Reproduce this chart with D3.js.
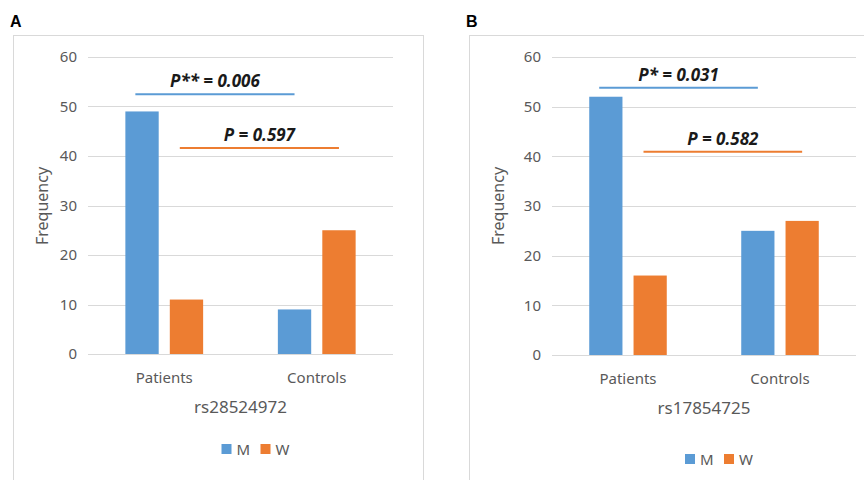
<!DOCTYPE html>
<html>
<head>
<meta charset="utf-8">
<script src="https://cdn.jsdelivr.net/npm/d3@7"></script>
<style>
  body { margin: 0; background: #fff; }
  text { font-family: "Noto Sans", "Open Sans", sans-serif; }
</style>
</head>
<body>
<div id="Canvas"></div>
<script>
// data
let categories = ["Patients", "Controls"]
let series = ["M", "W"]
let yTicks = [0, 10, 20, 30, 40, 50, 60]
let colors = ["#5B9BD5", "#ED7D31"]

// panel A
let valuesA_M = [49, 9]
let valuesA_W = [11, 25]
let pTextA = ["P** = 0.006", "P = 0.597"]
let pLevelA = [52.5, 41.6]

// panel B
let valuesB_M = [52, 25]
let valuesB_W = [16, 27]
let pTextB = ["P* = 0.031", "P = 0.582"]
let pLevelB = [53.8, 40.9]

let svg = d3.select("#Canvas")
    .append("svg")
    .attr("width", 864)
    .attr("height", 480)

function drawPanel(letter, frameX, frameW, x0, x1, yTop, yBot, snp, mVals, wVals, pTexts, pLevels, legendY) {
    let g = svg.append("g")
    // panel letter
    g.append("text")
        .attr("x", frameX - 3)
        .attr("y", 27)
        .style("font-family", "Liberation Sans, Arial, sans-serif")
        .style("font-weight", "bold")
        .style("font-size", "16px")
        .text(letter)
    // frame
    g.append("rect")
        .attr("x", frameX + 0.5)
        .attr("y", 35.5)
        .attr("width", frameW)
        .attr("height", 480)
        .style("fill", "none")
        .style("stroke", "#d9d9d9")

    let yScale = d3.scaleLinear().domain([0, 60]).range([yBot, yTop])
    let xScale = d3.scaleBand().domain(categories).range([x0, x1])
    let bw = xScale.bandwidth()
    let xSub = d3.scaleBand().domain(series).range([bw * 0.245, bw * 0.755]).paddingInner(0.25)

    // grid lines
    g.append("g")
        .selectAll("line")
        .data(yTicks)
        .enter()
        .append("line")
        .attr("x1", x0)
        .attr("x2", x1)
        .attr("y1", d => Math.round(yScale(d)) + 0.5)
        .attr("y2", d => Math.round(yScale(d)) + 0.5)
        .style("stroke", "#d9d9d9")
        .style("stroke-width", 1)

    // y axis labels
    let yAxis = d3.axisLeft(yScale).tickValues(yTicks).tickSize(0).tickPadding(11)
    let ax = g.append("g").attr("transform", `translate(${x0},0)`).call(yAxis)
    ax.select(".domain").remove()
    ax.selectAll("text")
        .style("font-family", "Noto Sans, sans-serif")
        .style("font-size", "15px")
        .style("fill", "#595959")

    // axis title
    g.append("text")
        .attr("transform", `translate(${frameX + 35},206) rotate(-90)`)
        .attr("text-anchor", "middle")
        .style("font-size", "16px")
        .style("fill", "#595959")
        .text("Frequency")

    // bars
    let rows = []
    categories.forEach((c, i) => {
        rows.push({ cat: c, s: "M", v: mVals[i] })
        rows.push({ cat: c, s: "W", v: wVals[i] })
    })
    g.append("g")
        .selectAll("rect")
        .data(rows)
        .enter()
        .append("rect")
        .attr("x", d => xScale(d.cat) + xSub(d.s))
        .attr("y", d => yScale(d.v))
        .attr("width", xSub.bandwidth())
        .attr("height", d => yScale(0) - yScale(d.v))
        .style("fill", d => colors[series.indexOf(d.s)])

    // category labels
    g.append("g")
        .selectAll("text")
        .data(categories)
        .enter()
        .append("text")
        .attr("x", d => xScale(d) + bw / 2)
        .attr("y", yBot + 29)
        .attr("text-anchor", "middle")
        .style("font-size", "15px")
        .style("fill", "#595959")
        .text(d => d)

    // snp title
    g.append("text")
        .attr("x", (x0 + x1) / 2)
        .attr("y", yBot + 59)
        .attr("text-anchor", "middle")
        .style("font-size", "17px")
        .style("fill", "#595959")
        .text(snp)

    // significance lines: M patients->controls, W patients->controls
    series.forEach((s, i) => {
        let lx1 = xScale(categories[0]) + xSub(s) + xSub.bandwidth() * 0.3
        let lx2 = xScale(categories[1]) + xSub(s) + xSub.bandwidth() * 0.5
        let ly = yScale(pLevels[i])
        g.append("line")
            .attr("x1", lx1)
            .attr("x2", lx2)
            .attr("y1", ly)
            .attr("y2", ly)
            .style("stroke", colors[i])
            .style("stroke-width", 2)
        g.append("text")
            .attr("x", (lx1 + lx2) / 2)
            .attr("y", ly - 7)
            .attr("text-anchor", "middle")
            .style("font-family", "Open Sans, sans-serif")
            .style("font-weight", "bold")
            .style("font-style", "italic")
            .style("font-size", "17px")
            .style("fill", "#1a1a1a")
            .text(pTexts[i])
    })

    // legend
    let lg = g.append("g").attr("transform", `translate(${(x0 + x1) / 2 - 19},${legendY})`)
    series.forEach((s, i) => {
        lg.append("rect")
            .attr("x", i * 39)
            .attr("y", -5)
            .attr("width", 10)
            .attr("height", 10)
            .style("fill", colors[i])
        lg.append("text")
            .attr("x", i * 39 + 15)
            .attr("y", 5.5)
            .style("font-size", "15px")
            .style("fill", "#595959")
            .text(s)
    })
}

drawPanel("A", 13, 410, 88, 393, 57, 354, "rs28524972", valuesA_M, valuesA_W, pTextA, pLevelA, 449)
drawPanel("B", 469, 420, 552, 856, 57, 355, "rs17854725", valuesB_M, valuesB_W, pTextB, pLevelB, 459)
</script>
</body>
</html>
